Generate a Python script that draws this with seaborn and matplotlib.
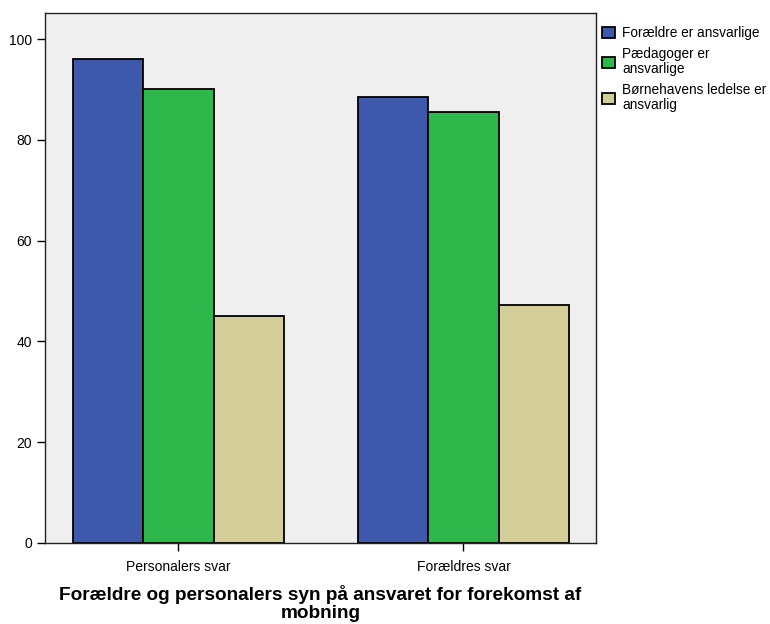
import matplotlib
matplotlib.use("Agg")
from matplotlib import pyplot as plt
import seaborn as sns
import pandas as pd

sns.set_style("white")
plt.rcParams['font.family'] = ['Liberation Sans', 'DejaVu Sans']
plt.rcParams['text.color'] = 'black'
plt.rcParams['axes.labelcolor'] = 'black'

# data
groups = ["Personalers svar", "Forældres svar"]
series = ["Forældre er ansvarlige", "Pædagoger er ansvarlige", "Børnehavens ledelse er ansvarlig"]
legend_labels = ["Forældre er ansvarlige", "Pædagoger er\nansvarlige", "Børnehavens ledelse er\nansvarlig"]
foraeldre = [96.0, 88.6]
paedagoger = [90.1, 85.5]
ledelse = [45.0, 47.2]
colors = ["#3e58ac", "#2eb84b", "#d3ce97"]

rows = []
for name, vals in zip(series, [foraeldre, paedagoger, ledelse]):
    for g, v in zip(groups, vals):
        rows.append({"gruppe": g, "serie": name, "pct": v})
df = pd.DataFrame(rows)

fig = plt.figure(figsize=(7.7, 6.24), dpi=100)
ax = fig.add_axes([45/770, 81/624, 551/770, 530/624])
ax.set_facecolor("#efefef")

sns.barplot(data=df, x="gruppe", y="pct", hue="serie", order=groups, hue_order=series,
            palette=colors, width=0.742, gap=0, saturation=1, edgecolor="black",
            linewidth=1.3, ax=ax, errorbar=None)

ax.set_xlim(-0.468, 1.465)
ax.set_ylim(0, 105.2)
ax.set_yticks([0, 20, 40, 60, 80, 100])
ax.tick_params(axis="both", direction="out", length=6, width=1, colors="black",
               labelsize=10, bottom=True, left=True)
ax.tick_params(axis="x", pad=6)
ax.set_ylabel("")
ax.set_xlabel("Forældre og personalers syn på ansvaret for forekomst af\nmobning",
              fontsize=13.7, fontweight="bold", labelpad=8, color="black", linespacing=1.08)
for s in ax.spines.values():
    s.set_visible(True)
    s.set_color("#222222")
    s.set_linewidth(1)

handles, _ = ax.get_legend_handles_labels()
ax.get_legend().remove()
leg = fig.legend(handles, legend_labels, loc="upper left", bbox_to_anchor=(590/770, 1 - 14/624),
                 frameon=False, fontsize=9.8, handlelength=0.9, handleheight=0.9,
                 handletextpad=0.55, labelspacing=0.5, labelcolor="black")
for t in leg.get_texts():
    t.set_linespacing(1.1)

plt.savefig("out.png", dpi=100)
